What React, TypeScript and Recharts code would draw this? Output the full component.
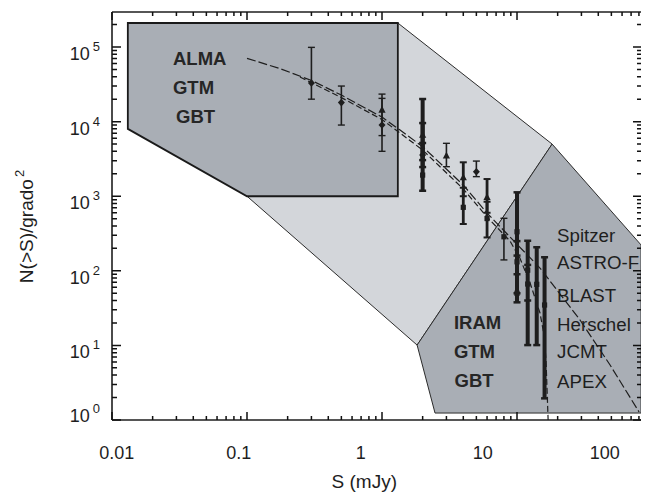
import React from 'react';
import { ComposedChart, Scatter, XAxis, YAxis } from 'recharts';

const FONT = '"Liberation Sans", Arial, Helvetica, sans-serif';
const INK = '#1e1e1e';
const DARK_FILL = '#a9aeb5';
const LIGHT_FILL = '#d3d6da';

// ---- axes ----
const X_DOMAIN: [number, number] = [0.01, 84.3];
const X_LABEL_DOMAIN: [number, number] = [0.00914, 201.8];
const Y_DOMAIN: [number, number] = [1, 295000];

const xTickValues = [
  0.01, 0.02, 0.03, 0.04, 0.05, 0.06, 0.07, 0.08, 0.09,
  0.1, 0.2, 0.3, 0.4, 0.5, 0.6, 0.7, 0.8, 0.9,
  1, 2, 3, 4, 5, 6, 7, 8, 9,
  10, 20, 30, 40, 50, 60, 70, 80,
];
const xLabelValues = [0.01, 0.1, 1, 10, 100];
const xLabelTexts = ['0.01', '0.1', '1', '10', '100'];
const yMajorValues = [1, 10, 100, 1000, 10000, 100000];
const yTickValues = [
  1, 2, 3, 4, 5, 6, 7, 8, 9,
  10, 20, 30, 40, 50, 60, 70, 80, 90,
  100, 200, 300, 400, 500, 600, 700, 800, 900,
  1000, 2000, 3000, 4000, 5000, 6000, 7000, 8000, 9000,
  10000, 20000, 30000, 40000, 50000, 60000, 70000, 80000, 90000,
  100000, 200000,
];
// inner ends of the frame tick marks (major / minor), in data units
const bottomInner = [1.28, 1.131];
const topInner = [230500, 260800];
const leftInner = [0.01166, 0.01089];
const rightInner = [72.3, 77.4];

// ---- instrument regions (S mJy, N) ----
const almaRegion = [
  { x: 0.0131, y: 210000 }, { x: 1.31, y: 210000 }, { x: 1.31, y: 1000 },
  { x: 0.1, y: 1000 }, { x: 0.0131, y: 8000 },
];
const midRegion = [
  { x: 1.31, y: 210000 }, { x: 18.2, y: 5000 }, { x: 1.82, y: 10.1 }, { x: 0.1, y: 1000 },
];
const iramRegion = [
  { x: 18.2, y: 5000 }, { x: 83, y: 222 }, { x: 83, y: 1.24 },
  { x: 2.47, y: 1.24 }, { x: 1.82, y: 10.1 },
];

// ---- model curves [S, N] ----
const model1 = [
  [0.1, 70600], [0.175, 51500], [0.301, 35600], [0.5, 22700], [1.0, 11500],
  [1.36, 7710], [2.0, 4610], [4.0, 1413], [6.0, 595], [8.87, 284],
  [14.8, 109], [29.3, 21.9], [48.9, 5.46], [80.2, 1.28],
];
const model2 = [
  [0.247, 39600], [0.5, 21000], [1.0, 10670], [2.0, 4160], [4.0, 1250],
  [6.0, 526], [8.87, 251], [10.5, 148], [12.5, 68.6], [14.8, 27.2],
  [15.85, 13.8], [16.4, 6.37], [16.7, 2.52], [17.0, 1.0],
];

// ---- measurements [S, N, lower, upper] ----
const thinDiamonds = [
  [0.3, 33000, 20000, 99000], [0.5, 18000, 9000, 30000],
  [1.0, 9000, 4000, 20500], [5.0, 2130, 1830, 2960],
];
const thinTriangles = [[1.0, 14300, 6500, 23400], [3.0, 3460, 2490, 5120]];
const thinSquares = [[8.0, 286, 140, 506]];
const mediumTriangles = [[4.0, 1770, 1000, 2850], [6.0, 961, 600, 1700]];
const mediumSquares = [[4.0, 710, 424, 1300], [6.0, 502, 280, 844]];
const thickTriangles = [[2.0, 6600, 3050, 20100]];
const thickDiamonds = [[2.0, 3570, 2460, 9570]];
const thickSquares = [
  [2.0, 1920, 1185, 5170], [10, 334, 160, 1128], [10, 132, 50, 250], [10, 50, 37.8, 90],
  [12, 102, 40, 253], [12, 66.5, 10.1, 120], [14, 65.9, 10.1, 207], [16, 34.8, 1.95, 152],
];

// ---- annotations ----
const labelTexts = ['ALMA', 'GTM', 'GBT', 'IRAM', 'GTM', 'GBT', 'Spitzer', 'ASTRO-F', 'BLAST', 'Herschel', 'JCMT', 'APEX'];
const labelS = [0.0283, 0.0283, 0.0298, 3.41, 3.41, 3.45, 19.8, 19.8, 19.8, 19.8, 19.8, 19.8];
const labelN = [57400, 23400, 9580, 16.6, 6.78, 2.77, 245.6, 105.7, 38.2, 15.8, 6.78, 2.69];
const labelBold = [true, true, true, true, true, true, false, false, false, false, false, false];

const toCenters = (rows: number[][]) => rows.map(([x, y]) => ({ x, y }));
const toEnds = (rows: number[][]) => rows.flatMap(([x, , lo, hi]) => [{ x, y: lo }, { x, y: hi }]);
const toCurve = (rows: number[][]) => rows.map(([x, y]) => ({ x, y }));
const annotations = labelTexts.map((label, i) => ({ x: labelS[i], y: labelN[i], label, bold: labelBold[i] }));

const isMajor = (v: number) => {
  const l = Math.log10(v);
  return Math.abs(l - Math.round(l)) < 1e-6;
};

const xMajor = xTickValues.filter(isMajor);
const xMinor = xTickValues.filter((v) => !isMajor(v));
const yMajor = yTickValues.filter(isMajor);
const yMinor = yTickValues.filter((v) => !isMajor(v));
// each mark: inner point (inside the frame) + pixel length towards the frame
const frameMarks = [
  { data: xMajor.map((v) => ({ x: v, y: bottomInner[0] })), dx: 0, dy: 8 },
  { data: xMinor.map((v) => ({ x: v, y: bottomInner[1] })), dx: 0, dy: 4 },
  { data: xMajor.map((v) => ({ x: v, y: topInner[0] })), dx: 0, dy: -8 },
  { data: xMinor.map((v) => ({ x: v, y: topInner[1] })), dx: 0, dy: -4 },
  { data: yMajor.map((v) => ({ x: leftInner[0], y: v })), dx: -9, dy: 0 },
  { data: yMinor.map((v) => ({ x: leftInner[1], y: v })), dx: -5, dy: 0 },
  { data: yMajor.map((v) => ({ x: rightInner[0], y: v })), dx: 9, dy: 0 },
  { data: yMinor.map((v) => ({ x: rightInner[1], y: v })), dx: 5, dy: 0 },
];
const markLine = (dx: number, dy: number) => (p: any) => {
  const pts = (p.points || []).filter((q: any) => q && Number.isFinite(q.x) && Number.isFinite(q.y));
  const d = pts.map((q: any) => `M${q.x},${q.y} L${q.x + dx},${q.y + dy}`).join(' ');
  return <path d={d} fill="none" stroke="#111" strokeWidth={1.5} />;
};

const LeftLabel = (p: any) => {
  const exp = Math.round(Math.log10(p.payload.value));
  return (
    <text x={p.x - 12} y={p.y + (exp === 0 ? 2 : 13)} textAnchor="end" fontFamily={FONT} fontSize={18} fill={INK}>
      <tspan>10</tspan>
      <tspan dx={3} dy={-9} fontSize={13}>{exp}</tspan>
    </text>
  );
};
const BottomLabel = (p: any) => {
  const idx = xLabelValues.indexOf(p.payload.value);
  return (
    <text x={p.x} y={p.y + 38} textAnchor="middle" fontFamily={FONT} fontSize={18} fill={INK}>
      {xLabelTexts[idx]}
    </text>
  );
};

const XTitle = (p: any) => {
  const vb = p.viewBox || { x: 104, y: 413, width: 530, height: 1 };
  return (
    <text x={vb.x + vb.width / 2 - 12.7} y={vb.y + 66.5} textAnchor="middle" fontFamily={FONT} fontSize={19} fill={INK}>
      S (mJy)
    </text>
  );
};
const YTitle = (p: any) => {
  const vb = p.viewBox || { x: 0, y: 4, width: 104, height: 408 };
  const cx = vb.x + 25;
  const cy = vb.y + vb.height / 2 + 10.5;
  return (
    <text x={cx} y={cy} transform={`rotate(-90 ${cx} ${cy})`} textAnchor="middle" fontFamily={FONT} fontSize={19} fill={INK}>
      N(&gt;S)/grado
      <tspan dx={2} dy={-9} fontSize={13}>2</tspan>
    </text>
  );
};

const emptyShape = () => <g />;
const polygonLine = (fill: string, stroke: string, sw: number) => (p: any) => {
  const pts = p.points || [];
  const d = pts.map((q: any, i: number) => `${i ? 'L' : 'M'}${q.x},${q.y}`).join(' ') + ' Z';
  return <path d={d} fill={fill} stroke={stroke} strokeWidth={sw} strokeLinejoin="miter" />;
};
// vertical error segments between consecutive (lower, upper) points
const barLine = (sw: number) => (p: any) => {
  const pts = p.points || [];
  let d = '';
  for (let i = 0; i + 1 < pts.length; i += 2) {
    d += `M${pts[i].x},${pts[i].y} L${pts[i + 1].x},${pts[i + 1].y} `;
  }
  return <path d={d} fill="none" stroke={INK} strokeWidth={sw} />;
};
const capShape = (half: number, sw: number) => (p: any) => (
  <line x1={p.cx - half} y1={p.cy} x2={p.cx + half} y2={p.cy} stroke={INK} strokeWidth={sw} />
);

const diamondShape = (p: any) => (
  <path d={`M${p.cx},${p.cy - 3.8} L${p.cx + 3.5},${p.cy} L${p.cx},${p.cy + 3.8} L${p.cx - 3.5},${p.cy} Z`} fill={INK} />
);
const triangleShape = (p: any) => (
  <path d={`M${p.cx},${p.cy - 4.2} L${p.cx + 3.6},${p.cy + 2.6} L${p.cx - 3.6},${p.cy + 2.6} Z`} fill={INK} />
);
const squareShape = (p: any) => <rect x={p.cx - 2.6} y={p.cy - 2.6} width={5.2} height={5.2} fill={INK} />;

const textShape = (p: any) => (
  <text
    x={p.cx}
    y={p.cy}
    textAnchor="start"
    fontFamily={FONT}
    fontSize={p.payload.bold ? 18.5 : 18.7}
    fontWeight={p.payload.bold ? 'bold' : 'normal'}
    fill={p.payload.bold ? '#262626' : INK}
  >
    {p.payload.label}
  </text>
);

const measurementSeries = [
  { rows: thinDiamonds, shape: diamondShape, sw: 1.6, capSw: 1.4 },
  { rows: thinTriangles, shape: triangleShape, sw: 1.6, capSw: 1.4 },
  { rows: thinSquares, shape: squareShape, sw: 1.6, capSw: 1.4 },
  { rows: mediumTriangles, shape: triangleShape, sw: 2.8, capSw: 2 },
  { rows: mediumSquares, shape: squareShape, sw: 2.8, capSw: 2 },
  { rows: thickTriangles, shape: triangleShape, sw: 4, capSw: 2.5 },
  { rows: thickDiamonds, shape: diamondShape, sw: 4, capSw: 2.5 },
  { rows: thickSquares, shape: squareShape, sw: 4, capSw: 2.5 },
];

export default function App() {
  return (
    <ComposedChart width={641} height={491} margin={{ top: 3, right: 6, bottom: 77, left: 0 }}>
      <XAxis
        xAxisId="x" dataKey="x" type="number" scale="log" domain={X_DOMAIN}
        ticks={xMajor} interval={0} tick={false} tickLine={false}
        axisLine={{ stroke: INK, strokeWidth: 1.6 }} height={1}
      />
      <XAxis
        xAxisId="xl" dataKey="x" type="number" scale="log" domain={X_LABEL_DOMAIN}
        ticks={xLabelValues} interval={0} tick={BottomLabel} tickLine={false} tickSize={0} tickMargin={0}
        axisLine={false} height={1} label={{ content: XTitle }}
      />
      <XAxis
        xAxisId="xt" orientation="top" dataKey="x" type="number" scale="log" domain={X_DOMAIN}
        ticks={xMajor} interval={0} tick={false} tickLine={false}
        axisLine={{ stroke: INK, strokeWidth: 1.6 }} height={1}
      />
      <YAxis
        yAxisId="y" dataKey="y" type="number" scale="log" domain={Y_DOMAIN}
        ticks={yMajorValues} interval={0} tick={LeftLabel} tickLine={false} tickSize={0} tickMargin={0}
        axisLine={{ stroke: INK, strokeWidth: 1.6 }} width={104} label={{ content: YTitle }}
      />
      <YAxis
        yAxisId="yr" orientation="right" dataKey="y" type="number" scale="log" domain={Y_DOMAIN}
        ticks={yMajor} interval={0} tick={false} tickLine={false}
        axisLine={{ stroke: INK, strokeWidth: 1.6 }} width={1}
      />

      {/* keep the auxiliary axes bound to a (blank) series */}
      <Scatter xAxisId="xt" yAxisId="yr" data={[{ x: 1, y: 10 }]} shape={emptyShape} isAnimationActive={false} />
      <Scatter xAxisId="xl" yAxisId="y" data={[{ x: 1, y: 10 }]} shape={emptyShape} isAnimationActive={false} />

      <Scatter xAxisId="x" yAxisId="y" data={midRegion} shape={emptyShape} line={polygonLine(LIGHT_FILL, '#2b2b2b', 1)} isAnimationActive={false} />
      <Scatter xAxisId="x" yAxisId="y" data={almaRegion} shape={emptyShape} line={polygonLine(DARK_FILL, '#1a1a1a', 1.8)} isAnimationActive={false} />
      <Scatter xAxisId="x" yAxisId="y" data={iramRegion} shape={emptyShape} line={polygonLine(DARK_FILL, '#2b2b2b', 1)} isAnimationActive={false} />

      <Scatter xAxisId="x" yAxisId="y" data={annotations} shape={textShape} isAnimationActive={false} />

      <Scatter xAxisId="x" yAxisId="y" data={toCurve(model1)} shape={emptyShape}
        line={{ stroke: INK, strokeWidth: 1.2, strokeDasharray: '9 3' }} isAnimationActive={false} />
      <Scatter xAxisId="x" yAxisId="y" data={toCurve(model2)} shape={emptyShape}
        line={{ stroke: INK, strokeWidth: 1.2, strokeDasharray: '6 3' }} isAnimationActive={false} />

      {measurementSeries.map((s, i) => (
        <Scatter key={`bar${i}`} xAxisId="x" yAxisId="y" data={toEnds(s.rows)} shape={capShape(3.5, s.capSw)}
          line={barLine(s.sw)} isAnimationActive={false} />
      ))}
      {measurementSeries.map((s, i) => (
        <Scatter key={`pt${i}`} xAxisId="x" yAxisId="y" data={toCenters(s.rows)} shape={s.shape} isAnimationActive={false} />
      ))}

      {/* frame tick marks */}
      {frameMarks.map((m, i) => (
        <Scatter key={`mk${i}`} xAxisId="x" yAxisId="y" data={m.data} shape={emptyShape}
          line={markLine(m.dx, m.dy)} isAnimationActive={false} />
      ))}
    </ComposedChart>
  );
}
